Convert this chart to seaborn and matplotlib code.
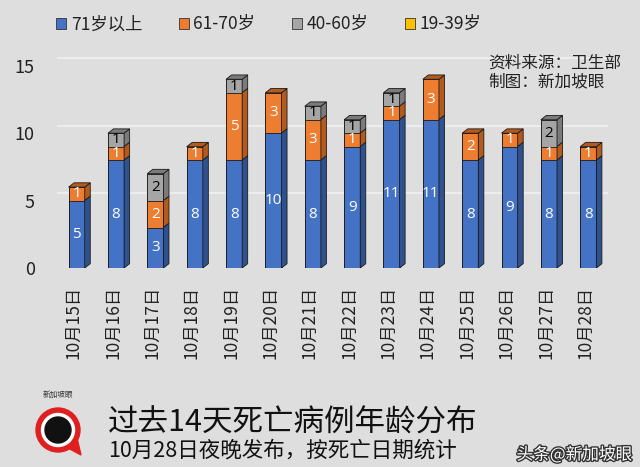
import matplotlib
matplotlib.use("Agg")
import matplotlib.pyplot as plt
import matplotlib.patheffects as pe
import matplotlib.transforms as mtransforms
from matplotlib.patches import Polygon, Rectangle, Circle
import numpy as np
import pandas as pd
import seaborn as sns

# ---- data ----
dates = ["10月15日", "10月16日", "10月17日", "10月18日", "10月19日", "10月20日", "10月21日",
         "10月22日", "10月23日", "10月24日", "10月25日", "10月26日", "10月27日", "10月28日"]
age_71_plus = [5, 8, 3, 8, 8, 10, 8, 9, 11, 11, 8, 9, 8, 8]
age_61_70 = [1, 1, 2, 1, 5, 3, 3, 1, 1, 3, 2, 1, 1, 1]
age_40_60 = [0, 1, 2, 0, 1, 0, 1, 1, 1, 0, 0, 0, 2, 0]
age_19_39 = [0, 0, 0, 0, 0, 0, 0, 0, 0, 0, 0, 0, 0, 0]
series_names = ["71岁以上", "61-70岁", "40-60岁", "19-39岁"]
y_ticks = [0, 5, 10, 15]

colors = ["#4472C4", "#ED7D31", "#A5A5A5", "#FFC000"]
side_colors = ["#2F528F", "#B45A1C", "#7B7B7B", "#BF9000"]
text_colors = ["white", "white", "black", "black"]

series = [age_71_plus, age_61_70, age_40_60, age_19_39]
vals = np.array(series, dtype=float)
cum = np.cumsum(vals, axis=0)
bottoms = cum - vals

sns.set_theme(style="white")
plt.rcParams["font.family"] = ["Noto Sans CJK SC", "DejaVu Sans"]

bg = "#dedede"
fig = plt.figure(figsize=(6.4, 4.67), dpi=100, facecolor=bg)
ax = fig.add_axes([57 / 640, 1 - 268 / 467, (608 - 57) / 640, 213 / 467])
ax.set_facecolor("none")

dx, dy = 0.14, 0.32
width = 0.41

# faint back-wall gridlines
for t in y_ticks[1:]:
    ax.axhline(t + 0.55, color="white", lw=1.2, alpha=0.55, zorder=0)

# draw layered (top series first so lower ones sit in front)
for k in range(len(series) - 1, -1, -1):
    n0 = len(ax.patches)
    df = pd.DataFrame({"date": dates, "height": cum[k]})
    sns.barplot(data=df, x="date", y="height", color=colors[k], saturation=1,
                width=width, errorbar=None, edgecolor="#1a1a1a", linewidth=0.6, ax=ax)
    new = ax.patches[n0:]
    for i, p in enumerate(new):
        if vals[k][i] <= 0:
            continue
        x0, w = p.get_x(), p.get_width()
        y0, y1 = bottoms[k][i], cum[k][i]
        side = Polygon([(x0 + w, y0), (x0 + w + dx, y0 + dy), (x0 + w + dx, y1 + dy), (x0 + w, y1)],
                       closed=True, facecolor=side_colors[k], edgecolor="#1a1a1a", lw=0.6)
        ax.add_patch(side)
        if vals[k + 1:, i].sum() == 0:
            top = Polygon([(x0, y1), (x0 + w, y1), (x0 + w + dx, y1 + dy), (x0 + dx, y1 + dy)],
                          closed=True, facecolor=side_colors[k], edgecolor="#1a1a1a", lw=0.6)
            ax.add_patch(top)

# segment labels
for k in range(len(series)):
    for i in range(len(dates)):
        v = vals[k][i]
        if v > 0:
            ax.text(i, bottoms[k][i] + v / 2, f"{int(v)}", ha="center", va="center",
                    color=text_colors[k], fontsize=11, family=["Open Sans", "DejaVu Sans"], zorder=10)

ax.set_xlim(-0.5, len(dates) - 0.5)
ax.set_ylim(0, 15.8)
ax.set_yticks(y_ticks)
ax.set_yticklabels([str(t) for t in y_ticks], fontsize=13, color="#222222")
ax.tick_params(axis="y", length=0, pad=16)
ax.tick_params(axis="x", length=0, pad=13, rotation=90, labelsize=12.5, labelcolor="#222222")
shift = mtransforms.ScaledTranslation(-3 / 100, 0, fig.dpi_scale_trans)
for lbl in ax.get_xticklabels():
    lbl.set_transform(lbl.get_transform() + shift)
ax.set_xlabel("")
ax.set_ylabel("")
for s in ax.spines.values():
    s.set_visible(False)

# legend
handles = [Rectangle((0, 0), 1, 1, facecolor=c, edgecolor="#333333", lw=0.6) for c in colors]
fig.legend(handles, series_names, loc="center", bbox_to_anchor=(0.42, 0.948), ncol=4,
           frameon=False, fontsize=12.5, handlelength=0.6, handleheight=0.6,
           handletextpad=0.25, columnspacing=2.1, labelcolor="#222222")

# source texts
fig.text(488 / 640, 1 - 63 / 467, "资料来源：卫生部", fontsize=12, va="center", ha="left", color="#222222")
fig.text(488 / 640, 1 - 82 / 467, "制图：新加坡眼", fontsize=12, va="center", ha="left", color="#222222")

# titles
fig.text(108 / 640, 1 - 423 / 467, "过去14天死亡病例年龄分布", fontsize=22, va="center", ha="left", color="#111111")
fig.text(108 / 640, 1 - 451 / 467, "10月28日夜晚发布，按死亡日期统计", fontsize=15.5, va="center", ha="left", color="#111111")

# logo (centre ~ (58, 430) px, outer radius ~22 px)
lax = fig.add_axes([28 / 640, 1 - 462 / 467, 60 / 640, 74 / 467])
lax.set_xlim(0, 60)
lax.set_ylim(0, 74)
lax.set_aspect("equal")
lax.axis("off")
cx, cy = 30, 32
lax.add_patch(Polygon([(cx + 10, cy - 18), (cx + 23, cy - 25), (cx + 19, cy - 8)], closed=True, color="#e02020"))
lax.add_patch(Circle((cx, cy), 22, color="#e02020"))
lax.add_patch(Circle((cx, cy), 16.5, color="white"))
lax.add_patch(Circle((cx, cy), 13, color="#111111"))
lax.text(cx, 67, "新加坡眼", ha="center", va="center", fontsize=5.5, color="#333333")

# watermark
fig.text(632 / 640, 1 - 455 / 467, "头条@新加坡眼", fontsize=12, ha="right", va="center", color="white",
         path_effects=[pe.withStroke(linewidth=2, foreground="#333333")])

fig.savefig("out.png", dpi=100, facecolor=bg)
